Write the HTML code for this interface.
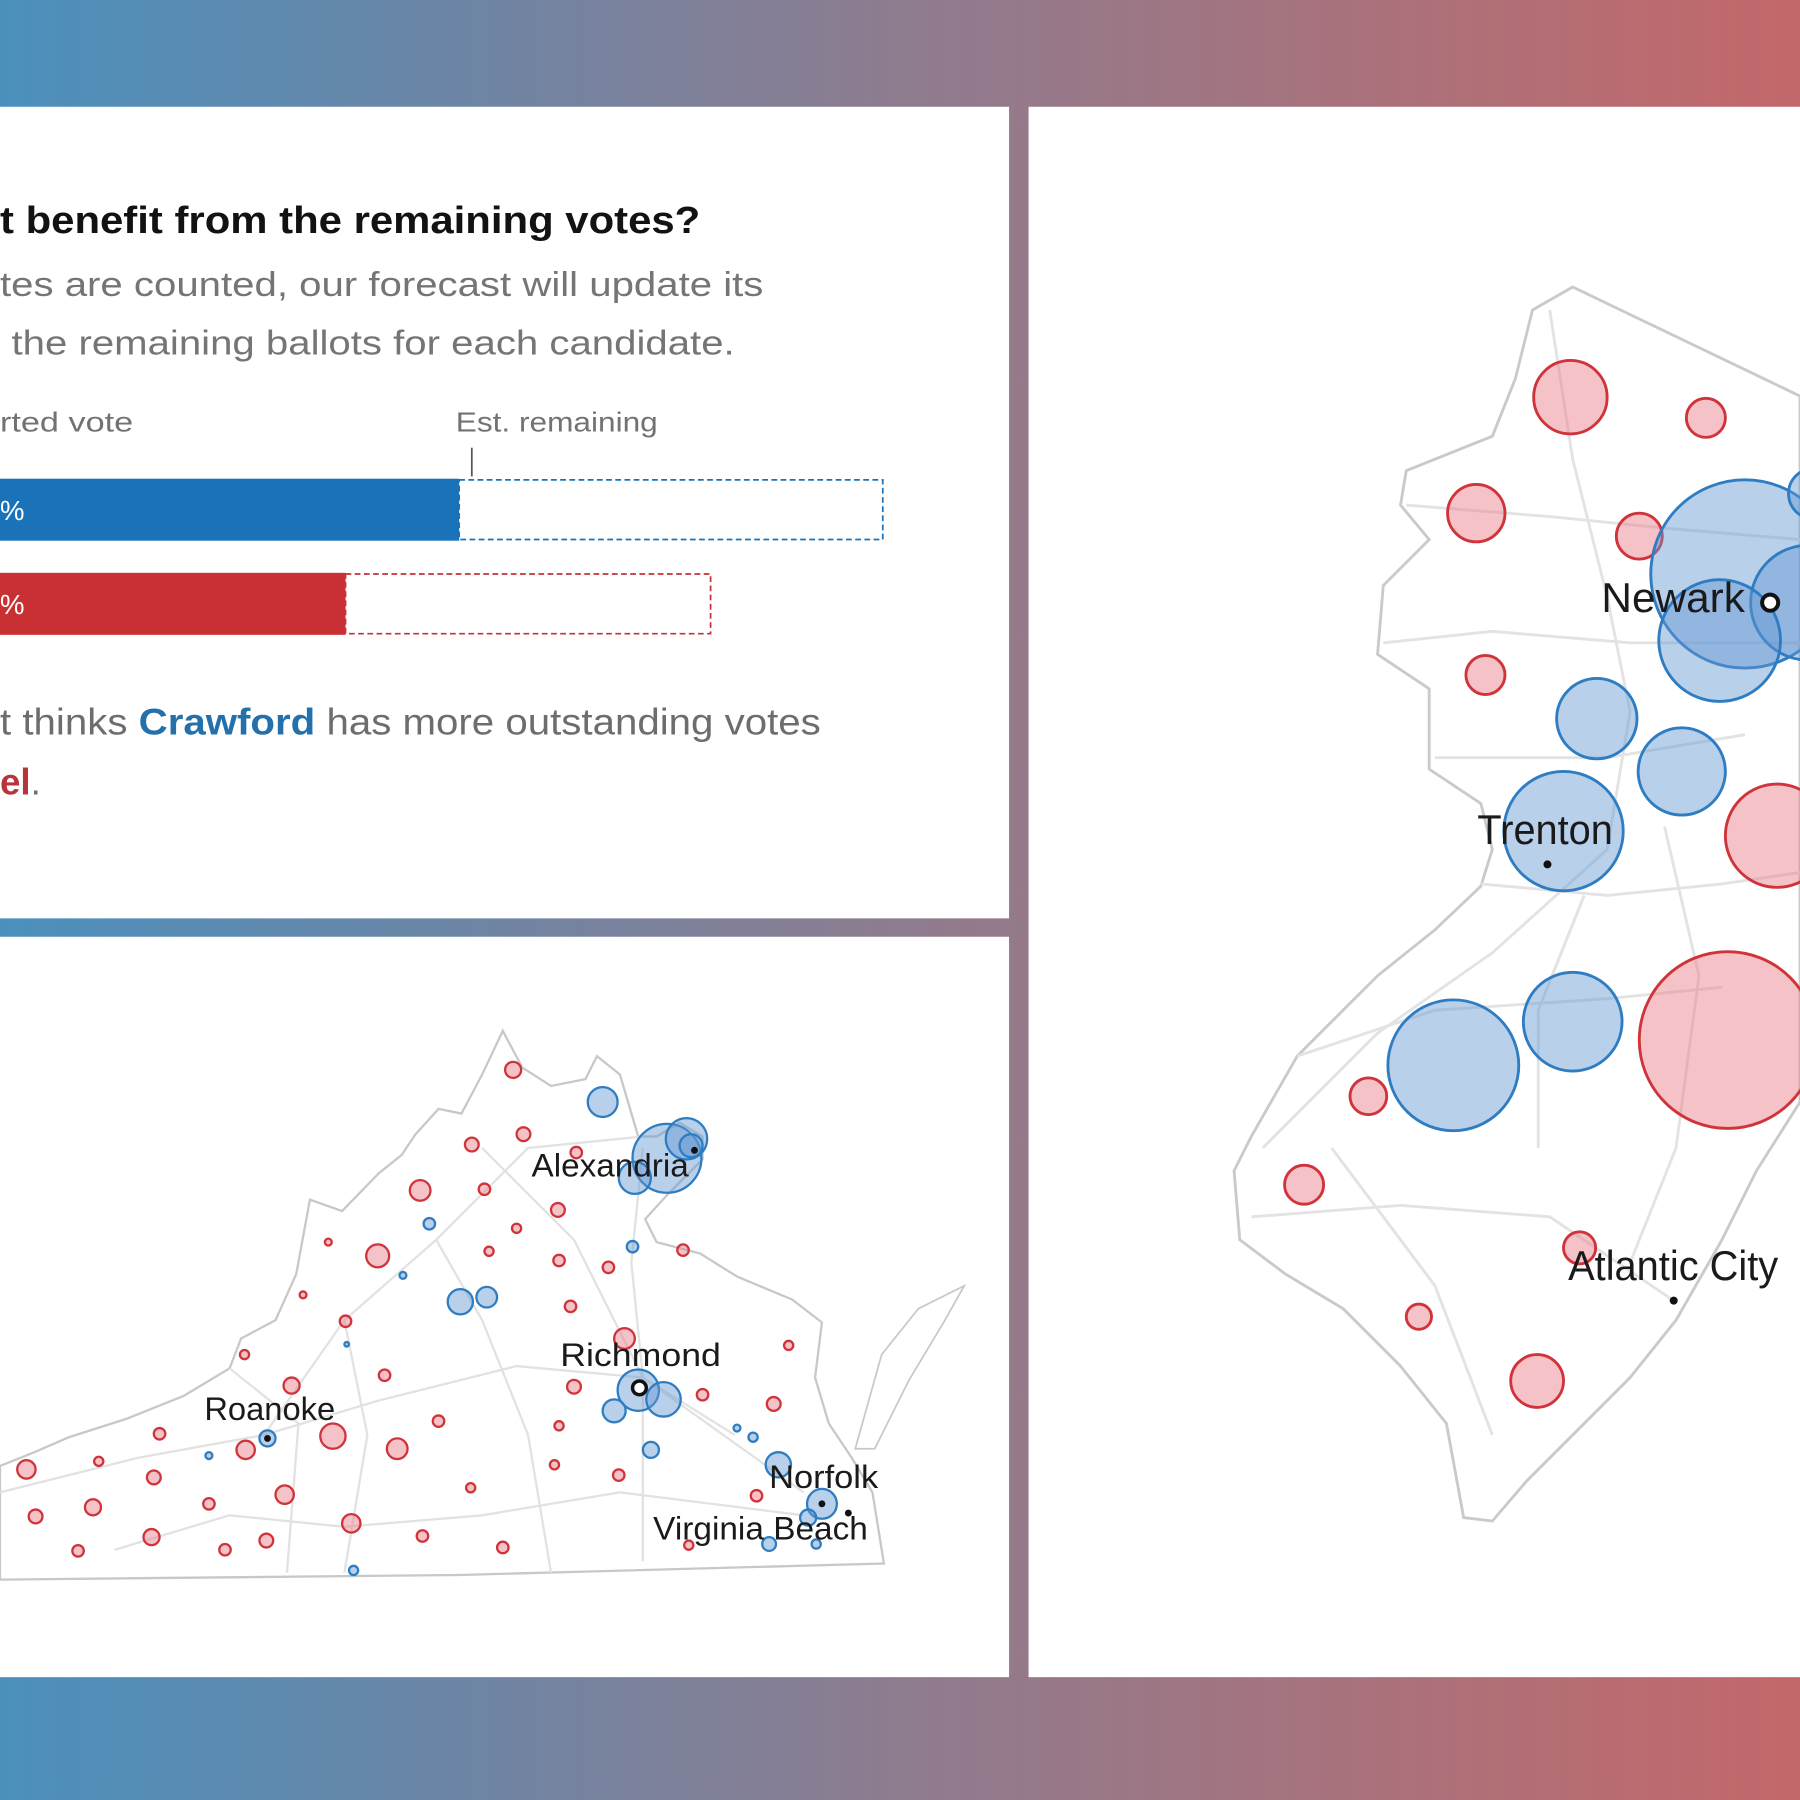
<!DOCTYPE html>
<html><head><meta charset="utf-8"><style>html,body{margin:0;padding:0;width:1800px;height:1800px;overflow:hidden}svg{display:block}</style></head>
<body>
<svg width="1800" height="1800" viewBox="0 0 1568 1568" xmlns="http://www.w3.org/2000/svg" font-family="'Liberation Sans', sans-serif">
<defs>
<linearGradient id="bg" x1="0" x2="1" y1="0" y2="0">
<stop offset="0" stop-color="#4b90bd"/><stop offset="0.5" stop-color="#8e7c8f"/><stop offset="1" stop-color="#c3686a"/>
</linearGradient>
<clipPath id="cl"><rect x="0" y="816" width="879" height="645"/></clipPath>
<clipPath id="cr"><rect x="896" y="93" width="672" height="1368"/></clipPath>
</defs>
<rect width="1568" height="1568" fill="url(#bg)"/>
<rect x="0" y="93" width="879" height="707" fill="#fff"/>
<rect x="0" y="816" width="879" height="645" fill="#fff"/>
<rect x="896" y="93" width="672" height="1368" fill="#fff"/>

<!-- top-left text -->
<text x="0" y="203" font-size="33" font-weight="bold" fill="#121212" textLength="610" lengthAdjust="spacingAndGlyphs">t benefit from the remaining votes?</text>
<text x="0" y="258" font-size="30" fill="#757575" textLength="665" lengthAdjust="spacingAndGlyphs">tes are counted, our forecast will update its</text>
<text x="10" y="309" font-size="30" fill="#757575" textLength="630" lengthAdjust="spacingAndGlyphs">the remaining ballots for each candidate.</text>
<text x="0" y="376" font-size="24" fill="#727272" textLength="116" lengthAdjust="spacingAndGlyphs">rted vote</text>
<text x="397" y="376" font-size="24" fill="#727272" textLength="176" lengthAdjust="spacingAndGlyphs">Est. remaining</text>
<line x1="411" y1="390" x2="411" y2="415" stroke="#555" stroke-width="1.5"/>
<rect x="0" y="417" width="400" height="54" fill="#1a73b8"/>
<rect x="400" y="418" width="369" height="52" fill="none" stroke="#1a73b8" stroke-width="1.5" stroke-dasharray="5,3"/>
<text x="0" y="453" font-size="24" fill="#fff">%</text>
<rect x="0" y="499" width="301" height="54" fill="#c93034"/>
<rect x="301" y="500" width="318" height="52" fill="none" stroke="#c93034" stroke-width="1.5" stroke-dasharray="5,3"/>
<text x="0" y="535" font-size="24" fill="#fff">%</text>
<text x="0" y="640" font-size="32" fill="#6d6d6d" textLength="715" lengthAdjust="spacingAndGlyphs">t thinks <tspan font-weight="bold" fill="#2470ab">Crawford</tspan> has more outstanding votes</text>
<text x="0" y="692" font-size="32" fill="#6d6d6d"><tspan font-weight="bold" fill="#b8333a">el</tspan>.</text>

<!-- Virginia -->
<g clip-path="url(#cl)">
<path d="M0,1277 L30,1265 60,1252 110,1236 160,1216 200,1192 210,1166 240,1150 258,1110 270,1045 298,1055 330,1022 350,1006 362,988 382,966 402,970 420,936 438,898 455,930 480,946 510,940 520,920 540,936 556,990 572,990 592,978 612,990 612,1010 582,1040 562,1062 572,1082 610,1092 642,1112 690,1132 716,1152 710,1200 722,1240 742,1270 760,1300 770,1362 400,1372 0,1376 Z" fill="#fff" stroke="#c8c8c8" stroke-width="2"/>
<path d="M745,1262 L768,1180 800,1140 840,1120 822,1152 792,1202 762,1262 Z" fill="#fff" stroke="#c8c8c8" stroke-width="1.5"/>
<g stroke="#e2e2e2" stroke-width="2" fill="none">
<path d="M0,1300 L120,1270 230,1250 330,1220 450,1190 560,1200 700,1300"/>
<path d="M230,1250 L300,1150 380,1080 460,1000 560,990"/>
<path d="M560,1000 L550,1100 560,1200 560,1360"/>
<path d="M100,1350 L200,1320 300,1330 420,1320 540,1300 700,1320"/>
<path d="M380,1080 L420,1150 460,1250 480,1370"/>
<path d="M300,1150 L320,1250 300,1370"/>
<path d="M420,1000 L500,1080 560,1200 640,1250"/>
<path d="M200,1192 L260,1240 250,1370"/>
</g>
<g fill="rgba(232,120,130,0.45)" stroke="#d0343a" stroke-width="2">
<circle cx="447" cy="932" r="7"/><circle cx="411" cy="997" r="6"/><circle cx="456" cy="988" r="6"/><circle cx="366" cy="1037" r="9"/><circle cx="502" cy="1004" r="5"/>
<circle cx="329" cy="1094" r="10"/><circle cx="486" cy="1054" r="6"/><circle cx="422" cy="1036" r="5"/><circle cx="487" cy="1098" r="5"/><circle cx="530" cy="1104" r="5"/>
<circle cx="497" cy="1138" r="5"/><circle cx="544" cy="1166" r="9"/><circle cx="254" cy="1207" r="7"/><circle cx="290" cy="1251" r="11"/><circle cx="346" cy="1262" r="9"/>
<circle cx="214" cy="1263" r="8"/><circle cx="23" cy="1280" r="8"/><circle cx="134" cy="1287" r="6"/><circle cx="81" cy="1313" r="7"/><circle cx="31" cy="1321" r="6"/>
<circle cx="182" cy="1310" r="5"/><circle cx="248" cy="1302" r="8"/><circle cx="306" cy="1327" r="8"/><circle cx="132" cy="1339" r="7"/><circle cx="232" cy="1342" r="6"/>
<circle cx="196" cy="1350" r="5"/><circle cx="68" cy="1351" r="5"/><circle cx="368" cy="1338" r="5"/><circle cx="438" cy="1348" r="5"/><circle cx="500" cy="1208" r="6"/>
<circle cx="612" cy="1215" r="5"/><circle cx="674" cy="1223" r="6"/><circle cx="659" cy="1303" r="5"/><circle cx="539" cy="1285" r="5"/><circle cx="410" cy="1296" r="4"/>
<circle cx="382" cy="1238" r="5"/><circle cx="487" cy="1242" r="4"/><circle cx="335" cy="1198" r="5"/><circle cx="301" cy="1151" r="5"/><circle cx="139" cy="1249" r="5"/>
<circle cx="213" cy="1180" r="4"/><circle cx="595" cy="1089" r="5"/><circle cx="687" cy="1172" r="4"/><circle cx="450" cy="1070" r="4"/><circle cx="426" cy="1090" r="4"/>
<circle cx="86" cy="1273" r="4"/><circle cx="264" cy="1128" r="3"/><circle cx="286" cy="1082" r="3"/><circle cx="600" cy="1346" r="4"/><circle cx="483" cy="1276" r="4"/>
</g>
<g fill="rgba(100,150,210,0.45)" stroke="#2e7dc2" stroke-width="2">
<circle cx="525" cy="960" r="13"/><circle cx="581" cy="1009" r="30"/><circle cx="598" cy="992" r="18"/><circle cx="553" cy="1026" r="14"/><circle cx="602" cy="998" r="10"/>
<circle cx="401" cy="1134" r="11"/><circle cx="424" cy="1130" r="9"/><circle cx="556" cy="1211" r="18"/><circle cx="578" cy="1219" r="15"/><circle cx="535" cy="1229" r="10"/>
<circle cx="567" cy="1263" r="7"/><circle cx="678" cy="1276" r="11"/><circle cx="716" cy="1310" r="13"/><circle cx="704" cy="1322" r="7"/><circle cx="670" cy="1345" r="6"/>
<circle cx="551" cy="1086" r="5"/><circle cx="374" cy="1066" r="5"/><circle cx="233" cy="1253" r="7"/><circle cx="308" cy="1368" r="4"/><circle cx="656" cy="1252" r="4"/>
<circle cx="642" cy="1244" r="3"/><circle cx="711" cy="1345" r="4"/><circle cx="182" cy="1268" r="3"/><circle cx="351" cy="1111" r="3"/><circle cx="302" cy="1171" r="2"/>
</g>
<circle cx="605" cy="1002" r="3" fill="#111"/><circle cx="233" cy="1253" r="3" fill="#111"/><circle cx="716" cy="1310" r="3" fill="#111"/><circle cx="739" cy="1318" r="3" fill="#111"/>
<circle cx="557" cy="1209" r="6" fill="#fff" stroke="#111" stroke-width="3"/>
<g font-size="28" fill="#1a1a1a">
<text x="463" y="1025" textLength="137" lengthAdjust="spacingAndGlyphs">Alexandria</text><text x="488" y="1190" textLength="140" lengthAdjust="spacingAndGlyphs">Richmond</text><text x="178" y="1237" textLength="114" lengthAdjust="spacingAndGlyphs">Roanoke</text><text x="670" y="1296" textLength="95" lengthAdjust="spacingAndGlyphs">Norfolk</text><text x="569" y="1341" textLength="187" lengthAdjust="spacingAndGlyphs">Virginia Beach</text>
</g>
</g>

<!-- New Jersey -->
<g clip-path="url(#cr)">
<path d="M1370,250 L1568,345 1568,960 1530,1020 1500,1080 1460,1150 1420,1200 1370,1250 1330,1290 1300,1325 1275,1322 1260,1240 1220,1190 1170,1140 1120,1110 1080,1080 1075,1020 1090,990 1130,920 1200,850 1250,810 1290,772 1300,740 1290,700 1245,670 1245,600 1200,570 1205,510 1245,470 1220,440 1225,410 1300,380 1320,330 1335,270 Z" fill="#fff" stroke="#cacaca" stroke-width="2.5"/>
<g stroke="#e3e3e3" stroke-width="2.5" fill="none">
<path d="M1225,440 L1350,450 1450,460 1568,470"/>
<path d="M1205,560 L1300,550 1420,560 1568,560"/>
<path d="M1350,270 L1370,400 1400,520 1420,620 1400,740 1300,830 1200,900 1100,1000"/>
<path d="M1250,660 L1400,660 1520,640"/>
<path d="M1290,770 L1400,780 1500,770 1568,760"/>
<path d="M1130,920 L1250,880 1400,870 1500,860"/>
<path d="M1090,1060 L1220,1050 1350,1060 1458,1133"/>
<path d="M1340,1000 L1340,880 1380,780"/>
<path d="M1160,1000 L1250,1120 1300,1250"/>
<path d="M1450,720 L1480,850 1460,1000 1420,1100"/>
</g>
<g fill="rgba(232,120,130,0.45)" stroke="#d0343a" stroke-width="2.5">
<circle cx="1368" cy="346" r="32"/><circle cx="1486" cy="364" r="17"/><circle cx="1286" cy="447" r="25"/><circle cx="1428" cy="467" r="20"/><circle cx="1294" cy="588" r="17"/>
<circle cx="1548" cy="728" r="45"/><circle cx="1505" cy="906" r="77"/><circle cx="1192" cy="955" r="16"/><circle cx="1136" cy="1032" r="17"/><circle cx="1376" cy="1087" r="14"/>
<circle cx="1236" cy="1147" r="11"/><circle cx="1339" cy="1203" r="23"/>
</g>
<g fill="rgba(100,150,210,0.45)" stroke="#2e7dc2" stroke-width="2.5">
<circle cx="1520" cy="500" r="82"/><circle cx="1575" cy="525" r="50"/><circle cx="1498" cy="558" r="53"/><circle cx="1391" cy="626" r="35"/><circle cx="1465" cy="672" r="38"/>
<circle cx="1362" cy="724" r="52"/><circle cx="1370" cy="890" r="43"/><circle cx="1266" cy="928" r="57"/><circle cx="1580" cy="430" r="22"/>
</g>
<circle cx="1542" cy="525" r="7" fill="#fff" stroke="#111" stroke-width="3.5"/>
<circle cx="1348" cy="753" r="3.5" fill="#111"/><circle cx="1458" cy="1133" r="3.5" fill="#111"/>
<g font-size="36" fill="#1a1a1a">
<text x="1395" y="533" textLength="125" lengthAdjust="spacingAndGlyphs">Newark</text><text x="1287" y="735" textLength="118" lengthAdjust="spacingAndGlyphs">Trenton</text><text x="1366" y="1115" textLength="183" lengthAdjust="spacingAndGlyphs">Atlantic City</text>
</g>
</g>
</svg>
</body></html>
